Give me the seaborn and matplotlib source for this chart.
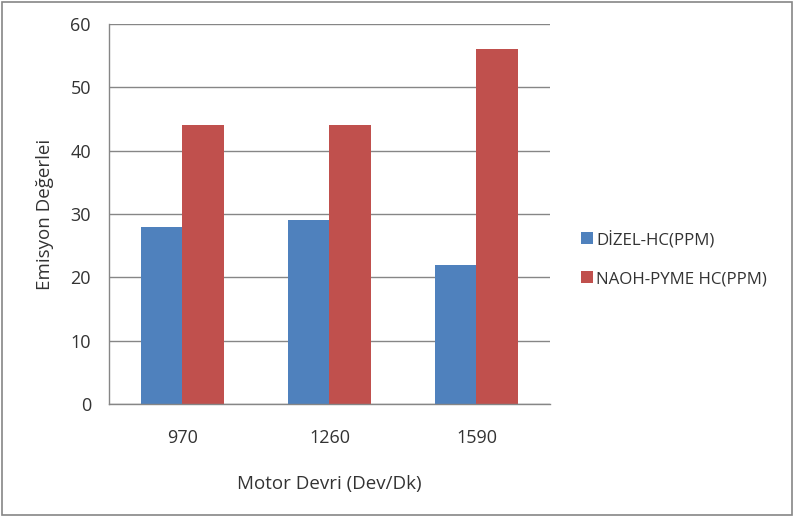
import matplotlib
matplotlib.use("Agg")
import matplotlib.pyplot as plt
import seaborn as sns
import pandas as pd
from matplotlib.patches import Rectangle

categories = ["970", "1260", "1590"]
series_names = ["DİZEL-HC(PPM)", "NAOH-PYME HC(PPM)"]
dizel = [28, 29, 22]
naoh = [44, 44, 56]
yticks = [0, 10, 20, 30, 40, 50, 60]
colors = ["#4F81BD", "#C0504D"]

df = pd.DataFrame({
    "cat": categories * 2,
    "series": [series_names[0]] * 3 + [series_names[1]] * 3,
    "val": dizel + naoh,
})

sns.set_style("white")
plt.rcParams["font.family"] = ["Open Sans", "DejaVu Sans"]

fig = plt.figure(figsize=(7.94, 5.17), dpi=100)
ax = fig.add_axes([109/794, 1-404/517, 441/794, 380/517])

sns.barplot(data=df, x="cat", y="val", hue="series", palette=colors,
            width=0.571, saturation=1, ax=ax, legend=True)
for p in ax.patches:
    p.set_edgecolor("none")

ax.set_ylim(0, 60)
ax.set_xlim(-0.5, 2.5)
ax.set_yticks(yticks)
ax.set_yticklabels([str(t) for t in yticks], fontsize=13, color="#333333")
ax.tick_params(axis="x", length=0, labelsize=13, labelcolor="#333333", pad=18)
ax.set_xticks(range(3))
ax.set_xticklabels(categories)
ax.set_xticks([-0.5, 0.5, 1.5, 2.5], minor=True)
ax.tick_params(axis="x", which="minor", length=5, color="#868686", direction="out")
ax.tick_params(axis="y", length=5, color="#868686", direction="out", pad=8)
ax.yaxis.grid(True, color="#868686", linewidth=1)
ax.set_axisbelow(True)
for s in ["top", "right"]:
    ax.spines[s].set_visible(False)
for s in ["left", "bottom"]:
    ax.spines[s].set_color("#868686")
    ax.spines[s].set_linewidth(1)

ax.set_xlabel("Motor Devri (Dev/Dk)", fontsize=13.5, color="#333333", labelpad=20)
ax.set_ylabel("Emisyon Değerlei", fontsize=13.5, color="#333333", labelpad=12)

leg = ax.legend(loc="center left", bbox_to_anchor=(566/794, 1-259/517),
                bbox_transform=fig.transFigure, frameon=False, fontsize=12.2,
                handlelength=0.7, handleheight=0.7, handletextpad=0.2,
                labelspacing=1.35, labelcolor="#333333")

fig.patches.append(Rectangle((0.002, 0.003), 0.995, 0.994, transform=fig.transFigure,
                             fill=False, edgecolor="#868686", linewidth=1.2))

fig.savefig("out.png", dpi=100, facecolor="white")
